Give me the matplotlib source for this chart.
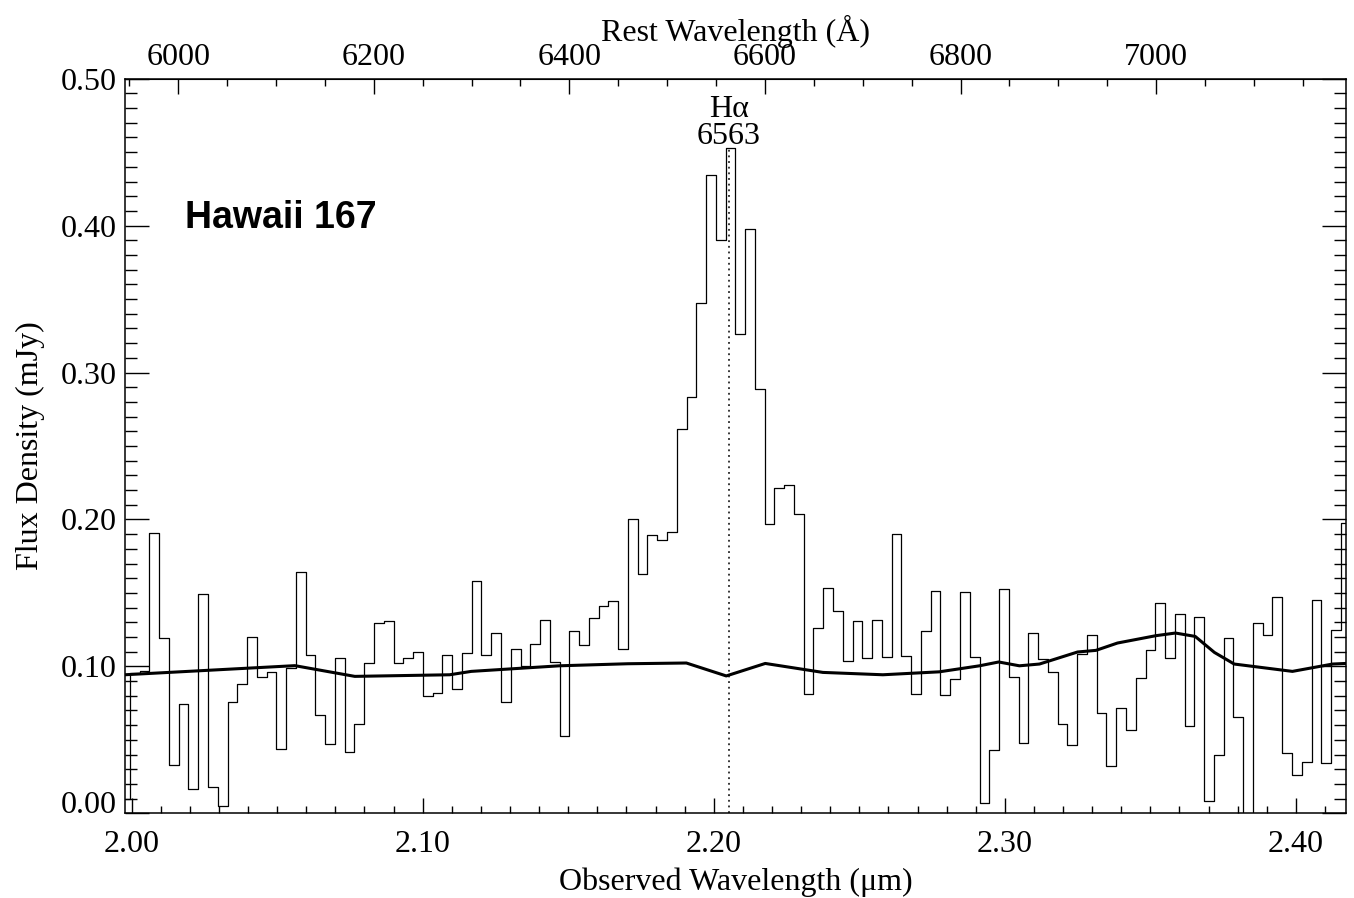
import numpy as np
import matplotlib
matplotlib.use("Agg")
import matplotlib.pyplot as plt
from matplotlib.ticker import MultipleLocator, FixedLocator
from matplotlib.transforms import ScaledTranslation

plt.rcParams['font.family'] = ['Liberation Serif', 'DejaVu Serif']

# spectrum grid (observed, micron) and flux (mJy)
wave_start = 1.99774
wave_step = 0.003355
flux = [
    0.0095, 0.0955, 0.0966, 0.191, 0.119, 0.033, 0.0745, 0.0164, 0.149, 0.018,
    0.005, 0.076, 0.088, 0.120, 0.093, 0.096, 0.044, 0.099, 0.164, 0.108,
    0.067, 0.047, 0.106, 0.0416, 0.061, 0.102, 0.1295, 0.131, 0.102, 0.1057,
    0.1098, 0.080, 0.0818, 0.108, 0.0848, 0.109, 0.158, 0.1075, 0.1227, 0.0757,
    0.1118, 0.100, 0.1154, 0.1318, 0.103, 0.0523, 0.1243, 0.1143, 0.133, 0.141,
    0.1445, 0.1115, 0.2003, 0.1627, 0.1893, 0.1860, 0.1914, 0.2616, 0.2835, 0.3474,
    0.4346, 0.3902, 0.4525, 0.3262, 0.3978, 0.2886, 0.1969, 0.2216, 0.2236, 0.2037,
    0.0812, 0.1261, 0.1531, 0.138, 0.1035, 0.1311, 0.1057, 0.1313, 0.1063, 0.1904,
    0.1068, 0.0811, 0.1243, 0.1516, 0.0804, 0.0916, 0.1507, 0.1066, 0.007, 0.0432,
    0.1525, 0.093, 0.0477, 0.1227, 0.1052, 0.0959, 0.0611, 0.0466, 0.1084, 0.1211,
    0.0684, 0.0325, 0.0716, 0.0568, 0.0922, 0.1109, 0.1432, 0.1054, 0.1354, 0.0591,
    0.1338, 0.0086, 0.0398, 0.119, 0.0657, -0.02, 0.1295, 0.1211, 0.147, 0.0409,
    0.0261, 0.0352, 0.1454, 0.0345, 0.125, 0.1977,
]

# noise / continuum curve
noise_wave = [1.9977, 2.0561, 2.0767, 2.1093, 2.1167, 2.1470, 2.1705, 2.1906, 2.2043,
              2.2177, 2.2375, 2.2581, 2.2775, 2.2913, 2.2979, 2.3050, 2.3119, 2.3250,
              2.3313, 2.3387, 2.3519, 2.3586, 2.3654, 2.3720, 2.3788, 2.3988, 2.4126, 2.4172]
noise_flux = [0.0943, 0.1005, 0.0932, 0.0943, 0.0966, 0.1004, 0.1018, 0.1023, 0.0935,
              0.1020, 0.0959, 0.0943, 0.0963, 0.1004, 0.1030, 0.1004, 0.1016, 0.1098,
              0.1109, 0.1159, 0.1209, 0.1227, 0.1204, 0.1095, 0.1016, 0.0966, 0.1016, 0.1020]

redshift = 2.360
line_name = "H\u03b1"
line_rest = 6563
obs_ticks = [2.00, 2.10, 2.20, 2.30, 2.40]
flux_ticks = [0.0, 0.1, 0.2, 0.3, 0.4, 0.5]
rest_ticks = [6000, 6200, 6400, 6600, 6800, 7000]

wave = wave_start + wave_step * np.arange(len(flux))
line_obs = line_rest * (1 + redshift) / 1e4

fs = 23
fig = plt.figure(figsize=(13.54, 8.98), dpi=100)
ax = fig.add_axes([0.0923, 0.0943, 0.9016, 0.8181])

ax.step(wave, flux, where='mid', color='black', lw=0.9)
ax.plot(noise_wave, noise_flux, color='black', lw=2.2)
ax.vlines(line_obs, 0, 0.452, colors='black', linestyles=(0, (1.2, 2.5)), lw=1.1)
ax.text(line_obs, 0.4555, line_name + "\n" + str(line_rest), ha='center', va='baseline',
        fontsize=fs, linespacing=0.92)
ax.text(2.0185, 0.405, "Hawaii 167", fontsize=27, fontweight='bold',
        family=['Liberation Sans', 'DejaVu Sans'], va='center')

ax.set_xlim(wave[0], wave[-1])
ax.set_ylim(0, 0.50)

ax.xaxis.set_major_locator(FixedLocator(obs_ticks))
ax.xaxis.set_minor_locator(MultipleLocator(0.01))
ax.yaxis.set_major_locator(FixedLocator(flux_ticks))
ax.yaxis.set_minor_locator(MultipleLocator(0.01))
ax.xaxis.set_major_formatter(lambda v, p: "%.2f" % v)
ax.yaxis.set_major_formatter(lambda v, p: "%.2f" % v)

ax.tick_params(axis='x', which='both', direction='in', top=False, bottom=True,
               labelsize=fs, pad=12)
ax.tick_params(axis='x', which='major', length=10.5, width=1)
ax.tick_params(axis='x', which='minor', length=5.3, width=1)
ax.tick_params(axis='y', which='both', direction='in', left=True, right=True,
               labelsize=fs, pad=6)
ax.tick_params(axis='y', which='major', length=17, width=1)
ax.tick_params(axis='y', which='minor', length=8.4, width=1)
for s in ax.spines.values():
    s.set_linewidth(1.1)

ax.set_xlabel("Observed Wavelength (\u03bcm)", fontsize=fs, labelpad=6)
ax.set_ylabel("Flux Density (mJy)", fontsize=fs, labelpad=11)

top = ax.secondary_xaxis('top', functions=(lambda w: w * 1e4 / (1 + redshift),
                                           lambda r: r * (1 + redshift) / 1e4))
top.xaxis.set_major_locator(FixedLocator(rest_ticks))
top.xaxis.set_minor_locator(FixedLocator(np.arange(5950, 7200, 50)))
top.tick_params(which='both', direction='in', labelsize=fs, pad=5)
top.tick_params(which='major', length=10.5, width=1)
top.tick_params(which='minor', length=5.3, width=1)
top.set_xlabel("Rest Wavelength (\u00c5)", fontsize=fs, labelpad=1)

fig.canvas.draw()
lbl0 = ax.yaxis.get_major_ticks()[0].label1
lbl0.set_transform(lbl0.get_transform() + ScaledTranslation(0, 0.11, fig.dpi_scale_trans))

fig.savefig("out.png", dpi=100)
